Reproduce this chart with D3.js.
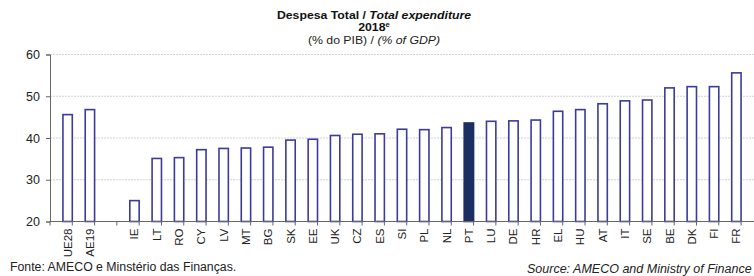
<!DOCTYPE html>
<html><head><meta charset="utf-8">
<script src="https://cdn.jsdelivr.net/npm/d3@7"></script>
<style>body{margin:0;background:#fff;}svg{display:block;font-family:"Liberation Sans",Arial,sans-serif;}</style>
</head><body>
<svg id="c" width="754" height="276"></svg>
<script>
const categories = ["UE28","AE19","","IE","LT","RO","CY","LV","MT","BG","SK","EE","UK","CZ","ES","SI","PL","NL","PT","LU","DE","HR","EL","HU","AT","IT","SE","BE","DK","FI","FR"];
const values = [45.6,46.8,null,25.0,35.1,35.3,37.2,37.5,37.6,37.8,39.5,39.7,40.6,40.9,41.0,42.1,42.0,42.5,43.6,44.0,44.1,44.3,46.4,46.8,48.2,48.9,49.1,52.0,52.3,52.3,55.6];
const highlight = ["PT"];
const yTicks = [20,30,40,50,60];

const svg = d3.select("#c");
const m = {l:50, r:0};
const W = 754;
const x = d3.scaleBand().domain(categories.map((c,i)=>i)).range([m.l, W - m.r]).padding(0.58);
const y = d3.scaleLinear().domain([20,60]).range([221.5, 54.5]);

// gridlines
svg.append("g").selectAll("line").data(yTicks.filter(t=>t>20)).join("line")
  .attr("x1", m.l).attr("x2", W).attr("y1", d=>y(d)).attr("y2", d=>y(d))
  .attr("stroke","#d2d2d2").attr("stroke-dasharray","2,1").attr("stroke-width",1);

// bars
svg.append("g").selectAll("rect").data(values.map((v,i)=>({v,i,c:categories[i]})).filter(d=>d.v!=null)).join("rect")
  .attr("x", d=>x(d.i)).attr("width", x.bandwidth())
  .attr("y", d=>y(d.v)).attr("height", d=>y(20)-y(d.v))
  .attr("fill", d=>highlight.includes(d.c)?"#1c2f63":"#fff")
  .attr("stroke", d=>highlight.includes(d.c)?"#1c2f63":"#3b3b9c").attr("stroke-width",1.6);

// y axis
const ya = d3.axisLeft(y).tickValues(yTicks).tickSize(4).tickPadding(6);
const gy = svg.append("g").attr("transform",`translate(${m.l},0)`).call(ya);
gy.select(".domain").attr("stroke","#666");
gy.selectAll(".tick line").attr("stroke","#666");
gy.selectAll("text").attr("font-size",12.5).attr("fill","#222").attr("font-family","Liberation Sans, Arial, sans-serif");

// x axis baseline
const gx = svg.append("g");
gx.append("line").attr("x1",m.l).attr("x2",W).attr("y1",y(20)).attr("y2",y(20)).attr("stroke","#666");
const step = x.step();
const bounds = d3.range(categories.length+1).map(i=>m.l + i*step);
gx.selectAll("line.tk").data(bounds).join("line").attr("class","tk")
  .attr("x1",d=>d).attr("x2",d=>d).attr("y1",y(20)).attr("y2",y(20)+4).attr("stroke","#666");
gx.selectAll("text").data(categories.map((c,i)=>({c,i})).filter(d=>d.c)).join("text")
  .attr("transform", d=>`translate(${x(d.i)+x.bandwidth()/2+4},${y(20)+7}) rotate(-90)`)
  .attr("text-anchor","end").attr("font-size",11.5).attr("fill","#222").text(d=>d.c);

// titles (slightly wide lettering, as in the reference)
const tg = svg.append("g").attr("transform","translate(374,0) scale(1.18,1)");
const t1 = tg.append("text").attr("x",0).attr("y",19).attr("text-anchor","middle").attr("font-size",10.4).attr("font-weight","bold").attr("fill","#111");
t1.append("tspan").text("Despesa Total / ");
t1.append("tspan").attr("font-style","italic").text("Total expenditure");
const t2 = tg.append("text").attr("x",0).attr("y",31.5).attr("text-anchor","middle").attr("font-size",10.4).attr("font-weight","bold").attr("fill","#111");
t2.append("tspan").text("2018");
t2.append("tspan").attr("font-size",6.5).attr("dy",-4).text("e");
const t3 = tg.append("text").attr("x",0).attr("y",44).attr("text-anchor","middle").attr("font-size",10.4).attr("fill","#222");
t3.append("tspan").text("(% do PIB) / ");
t3.append("tspan").attr("font-style","italic").text("(% of GDP)");

// footer
svg.append("text").attr("x",10).attr("y",271).attr("font-size",12.3).attr("fill","#222").text("Fonte: AMECO e Minstério das Finanças.");
svg.append("text").attr("x",527).attr("y",273).attr("font-size",12.5).attr("font-style","italic").attr("fill","#222").text("Source: AMECO and Ministry of Finance");
</script>
</body></html>
